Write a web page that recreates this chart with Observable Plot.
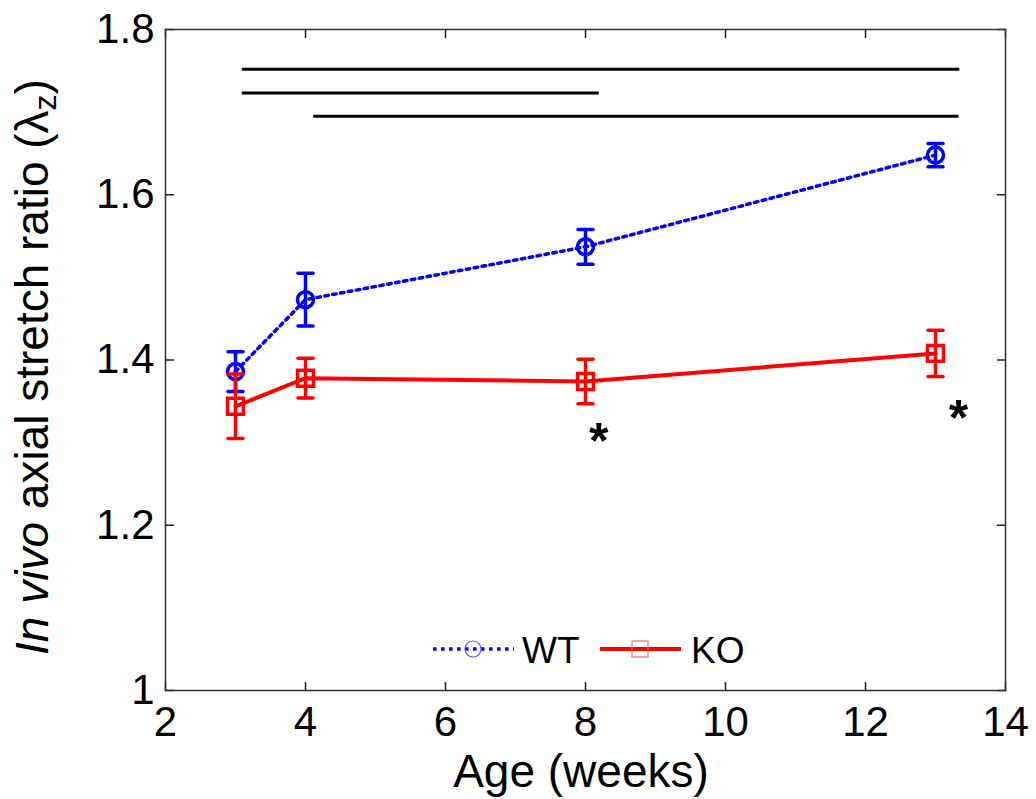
<!DOCTYPE html>
<html><head><meta charset="utf-8">
<script src="https://cdn.jsdelivr.net/npm/d3@7"></script>
<script src="https://cdn.jsdelivr.net/npm/@observablehq/plot@0.6"></script>
<style>
body{margin:0;background:#fff;font-family:"Liberation Sans",Arial,sans-serif;}
#wrap{position:relative;width:1036px;height:799px;}
.leg{position:absolute;font-size:37px;color:#000;line-height:1;}
</style></head><body><div id="wrap"></div>
<script>
// ---- data ----
const ages = [3, 4, 8, 13];
const wtMean = [1.386, 1.473, 1.537, 1.648];
const wtErr = [0.024, 0.032, 0.021, 0.014];
const koMean = [1.344, 1.378, 1.374, 1.408];
const koErr = [0.039, 0.024, 0.027, 0.028];
const sigStart = [3.09, 3.09, 4.11];
const sigEnd = [13.34, 8.19, 13.33];
const sigLevel = [1.752, 1.723, 1.695];
const starAge = [8.19, 13.33];
const starLevel = [1.311, 1.338];
const xTicks = [2, 4, 6, 8, 10, 12, 14];
const yTicks = [1, 1.2, 1.4, 1.6, 1.8];
const yTickLabels = ["1", "1.2", "1.4", "1.6", "1.8"];
const seriesNames = ["WT", "KO"];

const wt = ages.map((a, i) => ({age: a, v: wtMean[i], lo: wtMean[i] - wtErr[i], hi: wtMean[i] + wtErr[i]}));
const ko = ages.map((a, i) => ({age: a, v: koMean[i], lo: koMean[i] - koErr[i], hi: koMean[i] + koErr[i]}));
const sig = sigStart.map((s, i) => ({x1: s, x2: sigEnd[i], y: sigLevel[i]}));
const stars = starAge.map((a, i) => ({age: a, v: starLevel[i]}));

const BLUE = "#0000ff", RED = "#ff0000";
const seg = {draw(ctx, l) { ctx.moveTo(0, 0); ctx.lineTo(0, -l); }};
const tickStyle = {shape: seg, stroke: "#222", strokeWidth: 1.5, length: 8, anchor: "start"};
const capStyle = {shape: seg, length: 15, anchor: "middle", rotate: 90, strokeWidth: 3.5};

const chart = Plot.plot({
  width: 1036, height: 799,
  marginLeft: 165, marginRight: 31, marginTop: 29, marginBottom: 109,
  style: {fontFamily: '"Liberation Sans", Arial, sans-serif', fontSize: "42px", color: "#000", background: "#fff"},
  x: {domain: [2, 14]},
  y: {domain: [1, 1.8]},
  marks: [
    Plot.axisX(xTicks, {tickSize: 0, tickPadding: 16, label: null, fontSize: 42}),
    Plot.axisY(yTicks, {tickSize: 0, tickPadding: 11, label: null, fontSize: 42, tickFormat: (d, i) => yTickLabels[i]}),
    Plot.vector(xTicks, {x: d => d, frameAnchor: "bottom", rotate: 0, ...tickStyle}),
    Plot.vector(xTicks, {x: d => d, frameAnchor: "top", rotate: 180, ...tickStyle}),
    Plot.vector(yTicks, {y: d => d, frameAnchor: "left", rotate: 90, ...tickStyle}),
    Plot.vector(yTicks, {y: d => d, frameAnchor: "right", rotate: 270, ...tickStyle}),
    Plot.frame({stroke: "#333", strokeWidth: 1.5}),
    Plot.link(sig, {x1: "x1", x2: "x2", y1: "y", y2: "y", stroke: "#000", strokeWidth: 3}),
    // WT
    Plot.line(wt, {x: "age", y: "v", stroke: BLUE, strokeWidth: 3.5, strokeDasharray: "3.5,4.5"}),
    Plot.ruleX(wt, {x: "age", y1: "lo", y2: "hi", stroke: BLUE, strokeWidth: 3.5}),
    Plot.vector(wt, {x: "age", y: "hi", stroke: BLUE, ...capStyle}),
    Plot.vector(wt, {x: "age", y: "lo", stroke: BLUE, ...capStyle}),
    Plot.dot(wt, {x: "age", y: "v", r: 8, stroke: BLUE, strokeWidth: 3.5, fill: "none"}),
    // KO
    Plot.line(ko, {x: "age", y: "v", stroke: RED, strokeWidth: 4}),
    Plot.ruleX(ko, {x: "age", y1: "lo", y2: "hi", stroke: RED, strokeWidth: 3.5}),
    Plot.vector(ko, {x: "age", y: "hi", stroke: RED, ...capStyle}),
    Plot.vector(ko, {x: "age", y: "lo", stroke: RED, ...capStyle}),
    Plot.dot(ko, {x: "age", y: "v", r: 9, symbol: "square", stroke: RED, strokeWidth: 3.5, fill: "none"}),
    Plot.text(stars, {x: "age", y: "v", text: () => "*", fontSize: 50, fontWeight: "bold", dy: 8, fill: "#000"})
  ]
});

const svg = d3.select(chart);
// x label
svg.append("text").attr("x", 581).attr("y", 787).attr("text-anchor", "middle")
  .attr("font-size", 46).attr("fill", "#000").text("Age (weeks)");
// y label with italic and subscript
const yl = svg.append("text").attr("transform", "translate(48,367) rotate(-90)")
  .attr("text-anchor", "middle").attr("font-size", 46).attr("fill", "#000");
yl.append("tspan").attr("font-style", "italic").text("In vivo");
yl.append("tspan").text(" axial stretch ratio (\u03bb");
yl.append("tspan").attr("font-size", 32).attr("dy", 8).text("z");
yl.append("tspan").attr("dy", -8).text(")");

document.getElementById("wrap").appendChild(chart);

// legend overlay
const wrap = d3.select("#wrap");
const legItems = [
  {name: seriesNames[0], left: 433, color: BLUE, light: "#5555ff", dash: "3.5,4.5", sym: "circle", textLeft: 522},
  {name: seriesNames[1], left: 600, color: RED, light: "#ff6666", dash: null, sym: "square", textLeft: 691}
];
for (const it of legItems) {
  const s = wrap.append("svg").style("position", "absolute").style("left", it.left + "px").style("top", "629px")
    .attr("width", 81).attr("height", 40);
  const ln = s.append("line").attr("x1", 0).attr("x2", 81).attr("y1", 20).attr("y2", 20)
    .attr("stroke", it.color).attr("stroke-width", it.dash ? 3.5 : 4);
  if (it.dash) ln.attr("stroke-dasharray", it.dash);
  if (it.sym === "circle") s.append("circle").attr("cx", 40).attr("cy", 20).attr("r", 8).attr("fill", "none").attr("stroke", it.light).attr("stroke-width", 1.2);
  else s.append("rect").attr("x", 32).attr("y", 12).attr("width", 16).attr("height", 16).attr("fill", "none").attr("stroke", it.light).attr("stroke-width", 1.2);
  wrap.append("div").attr("class", "leg").style("left", it.textLeft + "px").style("top", "632px").text(it.name);
}
</script></body></html>
